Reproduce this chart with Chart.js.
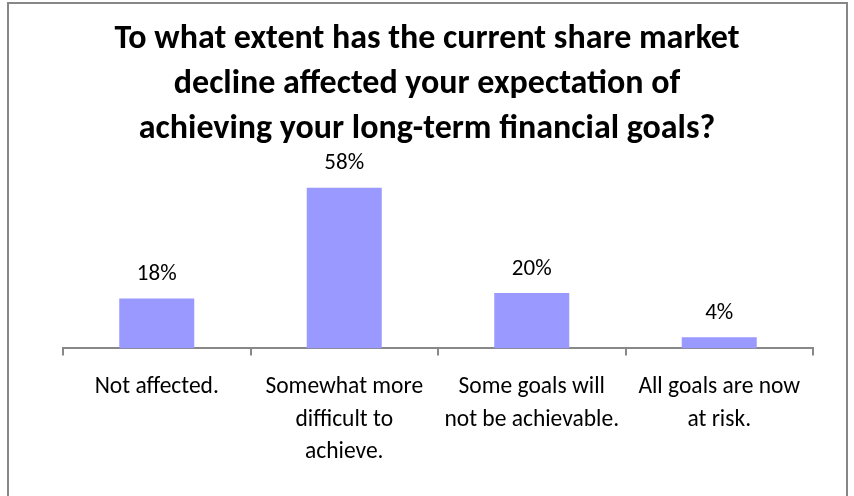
<!DOCTYPE html>
<html>
<head>
<meta charset="utf-8">
<script src="https://cdn.jsdelivr.net/npm/chart.js@4/dist/chart.umd.min.js"></script>
<style>
  body { margin: 0; background: #fff; }
  #wrap { position: relative; width: 854px; height: 496px; overflow: hidden; }
  #frame { position: absolute; left: 7px; top: 2px; width: 841px; height: 520px; border: 2px solid #878787; box-sizing: border-box; }
  #chart { position: absolute; left: 0; top: 0; }
</style>
</head>
<body>
<div id="wrap">
  <div id="frame"></div>
  <canvas id="chart" width="854" height="496"></canvas>
</div>
<script>
const titleLines = [
    "To what extent has the current share market",
    "decline affected your expectation of",
    "achieving your long-term financial goals?"
];
const categories = [
    ["Not affected."],
    ["Somewhat more", "difficult to", "achieve."],
    ["Some goals will", "not be achievable."],
    ["All goals are now", "at risk."]
];
const percents = [18, 58, 20, 4];

const fontFamily = "Carlito, Lato, 'Open Sans', sans-serif";

// writes the value above each bar
const barLabels = {
    id: "barLabels",
    afterDatasetsDraw(chart) {
        const ctx = chart.ctx;
        const meta = chart.getDatasetMeta(0);
        ctx.save();
        ctx.font = "23px " + fontFamily;
        ctx.fillStyle = "#000";
        ctx.textAlign = "center";
        ctx.textBaseline = "middle";
        meta.data.forEach((bar, i) => {
            ctx.fillText(percents[i] + "%", bar.x, bar.y - 24);
        });
        ctx.restore();
    }
};

const ctx = document.getElementById("chart").getContext("2d");

new Chart(ctx, {
    type: "bar",
    data: {
        labels: categories,
        datasets: [{
            data: percents,
            backgroundColor: "#9999ff",
            categoryPercentage: 1,
            barPercentage: 0.4
        }]
    },
    options: {
        responsive: false,
        animation: false,
        layout: { padding: { left: 41, right: 41, top: 0, bottom: 12 } },
        plugins: {
            legend: { display: false },
            tooltip: { enabled: false },
            title: {
                display: true,
                text: titleLines,
                color: "#000",
                font: { family: fontFamily, size: 34, weight: "bold", lineHeight: 1.32 },
                padding: { top: 17, bottom: 0 }
            }
        },
        scales: {
            y: {
                min: 0,
                max: 71,
                grid: { display: false },
                border: { display: false },
                ticks: { display: false },
                // empty strip so the axis starts a bit further in
                afterFit(scale) { scale.width = 22; }
            },
            x: {
                grid: {
                    offset: true,
                    drawOnChartArea: false,
                    drawTicks: true,
                    tickLength: 7,
                    color: "#888",
                    lineWidth: 2
                },
                border: { color: "#888", width: 2 },
                ticks: {
                    color: "#000",
                    maxRotation: 0,
                    autoSkip: false,
                    padding: 16,
                    font: { family: fontFamily, size: 23.5, lineHeight: 1.37 }
                }
            }
        }
    },
    plugins: [barLabels]
});
</script>
</body>
</html>
